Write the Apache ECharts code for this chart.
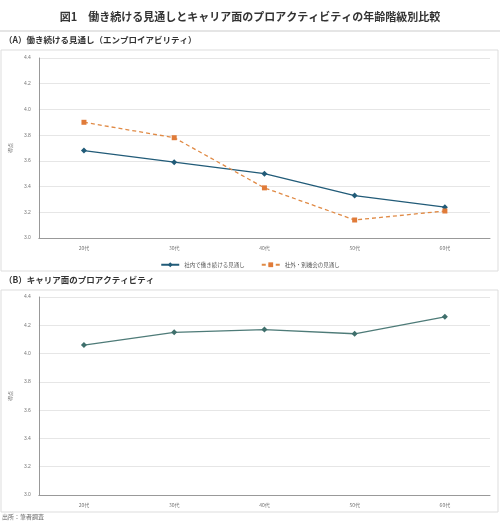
<!DOCTYPE html>
<html><head><meta charset="utf-8">
<script src="https://cdn.jsdelivr.net/npm/echarts@6/dist/echarts.min.js"></script>
<style>body{margin:0}#c{width:500px;height:527px}</style></head>
<body><div id="c"></div>
<script>
var ages = ['20代', '30代', '40代', '50代', '60代'];
var insideOutlook = [3.68, 3.59, 3.50, 3.33, 3.24];
var outsideOutlook = [3.90, 3.78, 3.39, 3.14, 3.21];
var proactivity = [4.06, 4.15, 4.17, 4.14, 4.26];
var yTicks = {min: 3.0, max: 4.4, interval: 0.2};

var font = '"Noto Sans CJK JP", sans-serif';
var chart = echarts.init(document.getElementById('c'));

function yAxis(idx) {
    return {
        gridIndex: idx, type: 'value', min: yTicks.min, max: yTicks.max, interval: yTicks.interval,
        name: '得点', nameLocation: 'middle', nameGap: 18, nameRotate: 90,
        nameTextStyle: {fontSize: 5, color: '#777', fontFamily: font},
        axisLine: {show: true, lineStyle: {color: '#999'}},
        axisLabel: {fontSize: 5, color: '#777', formatter: function (v) { return v.toFixed(1); }},
        splitLine: {lineStyle: {color: '#e6e6e6'}}
    };
}
function xAxis(idx) {
    return {
        gridIndex: idx, type: 'category', data: ages,
        axisLine: {lineStyle: {color: '#999'}}, axisTick: {show: false},
        axisLabel: {fontSize: 5, color: '#777', fontFamily: font, margin: 8}
    };
}

chart.setOption({
    animation: false,
    title: {text: '図1　働き続ける見通しとキャリア面のプロアクティビティの年齢階級別比較', left: 'center', top: 6,
        textStyle: {fontSize: 11, fontWeight: 'bold', color: '#333', fontFamily: font}},
    graphic: [
        {type: 'line', shape: {x1: 0, y1: 31, x2: 500, y2: 31}, style: {stroke: '#ddd', lineWidth: 1.5}},
        {type: 'text', left: 4, top: 36, style: {text: '（A）働き続ける見通し（エンプロイアビリティ）', fill: '#333', font: 'bold 8.5px "Noto Sans CJK JP"'}},
        {type: 'rect', shape: {x: 1, y: 50, width: 497, height: 221}, style: {fill: 'none', stroke: '#ddd'}},
        {type: 'text', left: 4, top: 276, style: {text: '（B）キャリア面のプロアクティビティ', fill: '#333', font: 'bold 8.5px "Noto Sans CJK JP"'}},
        {type: 'rect', shape: {x: 1, y: 290, width: 497, height: 222}, style: {fill: 'none', stroke: '#ddd'}},
        {type: 'text', left: 2, top: 514, style: {text: '出所：筆者調査', fill: '#666', font: '6px "Noto Sans CJK JP"'}}
    ],
    legend: {top: 257, left: 'center', itemWidth: 18, itemHeight: 6, itemGap: 16,
        textStyle: {fontSize: 5.5, color: '#555', fontFamily: font},
        data: ['社内で働き続ける見通し', '社外・別機会の見通し']},
    grid: [
        {left: 30, right: 10, top: 58, height: 180},
        {left: 30, right: 10, top: 297, height: 198}
    ],
    xAxis: [xAxis(0), xAxis(1)],
    yAxis: [yAxis(0), yAxis(1)],
    series: [
        {name: '社内で働き続ける見通し', type: 'line', xAxisIndex: 0, yAxisIndex: 0, data: insideOutlook,
            symbol: 'diamond', symbolSize: 6, itemStyle: {color: '#215b78'}, lineStyle: {color: '#215b78', width: 1.3}},
        {name: '社外・別機会の見通し', type: 'line', xAxisIndex: 0, yAxisIndex: 0, data: outsideOutlook,
            symbol: 'rect', symbolSize: 5, itemStyle: {color: '#e07b39'}, lineStyle: {color: '#e08a45', width: 1.3, type: [4, 3]}},
        {name: 'プロアクティビティ', type: 'line', xAxisIndex: 1, yAxisIndex: 1, data: proactivity,
            symbol: 'diamond', symbolSize: 6, itemStyle: {color: '#3f6f6c'}, lineStyle: {color: '#4e7b78', width: 1.3}}
    ]
});
</script></body></html>
